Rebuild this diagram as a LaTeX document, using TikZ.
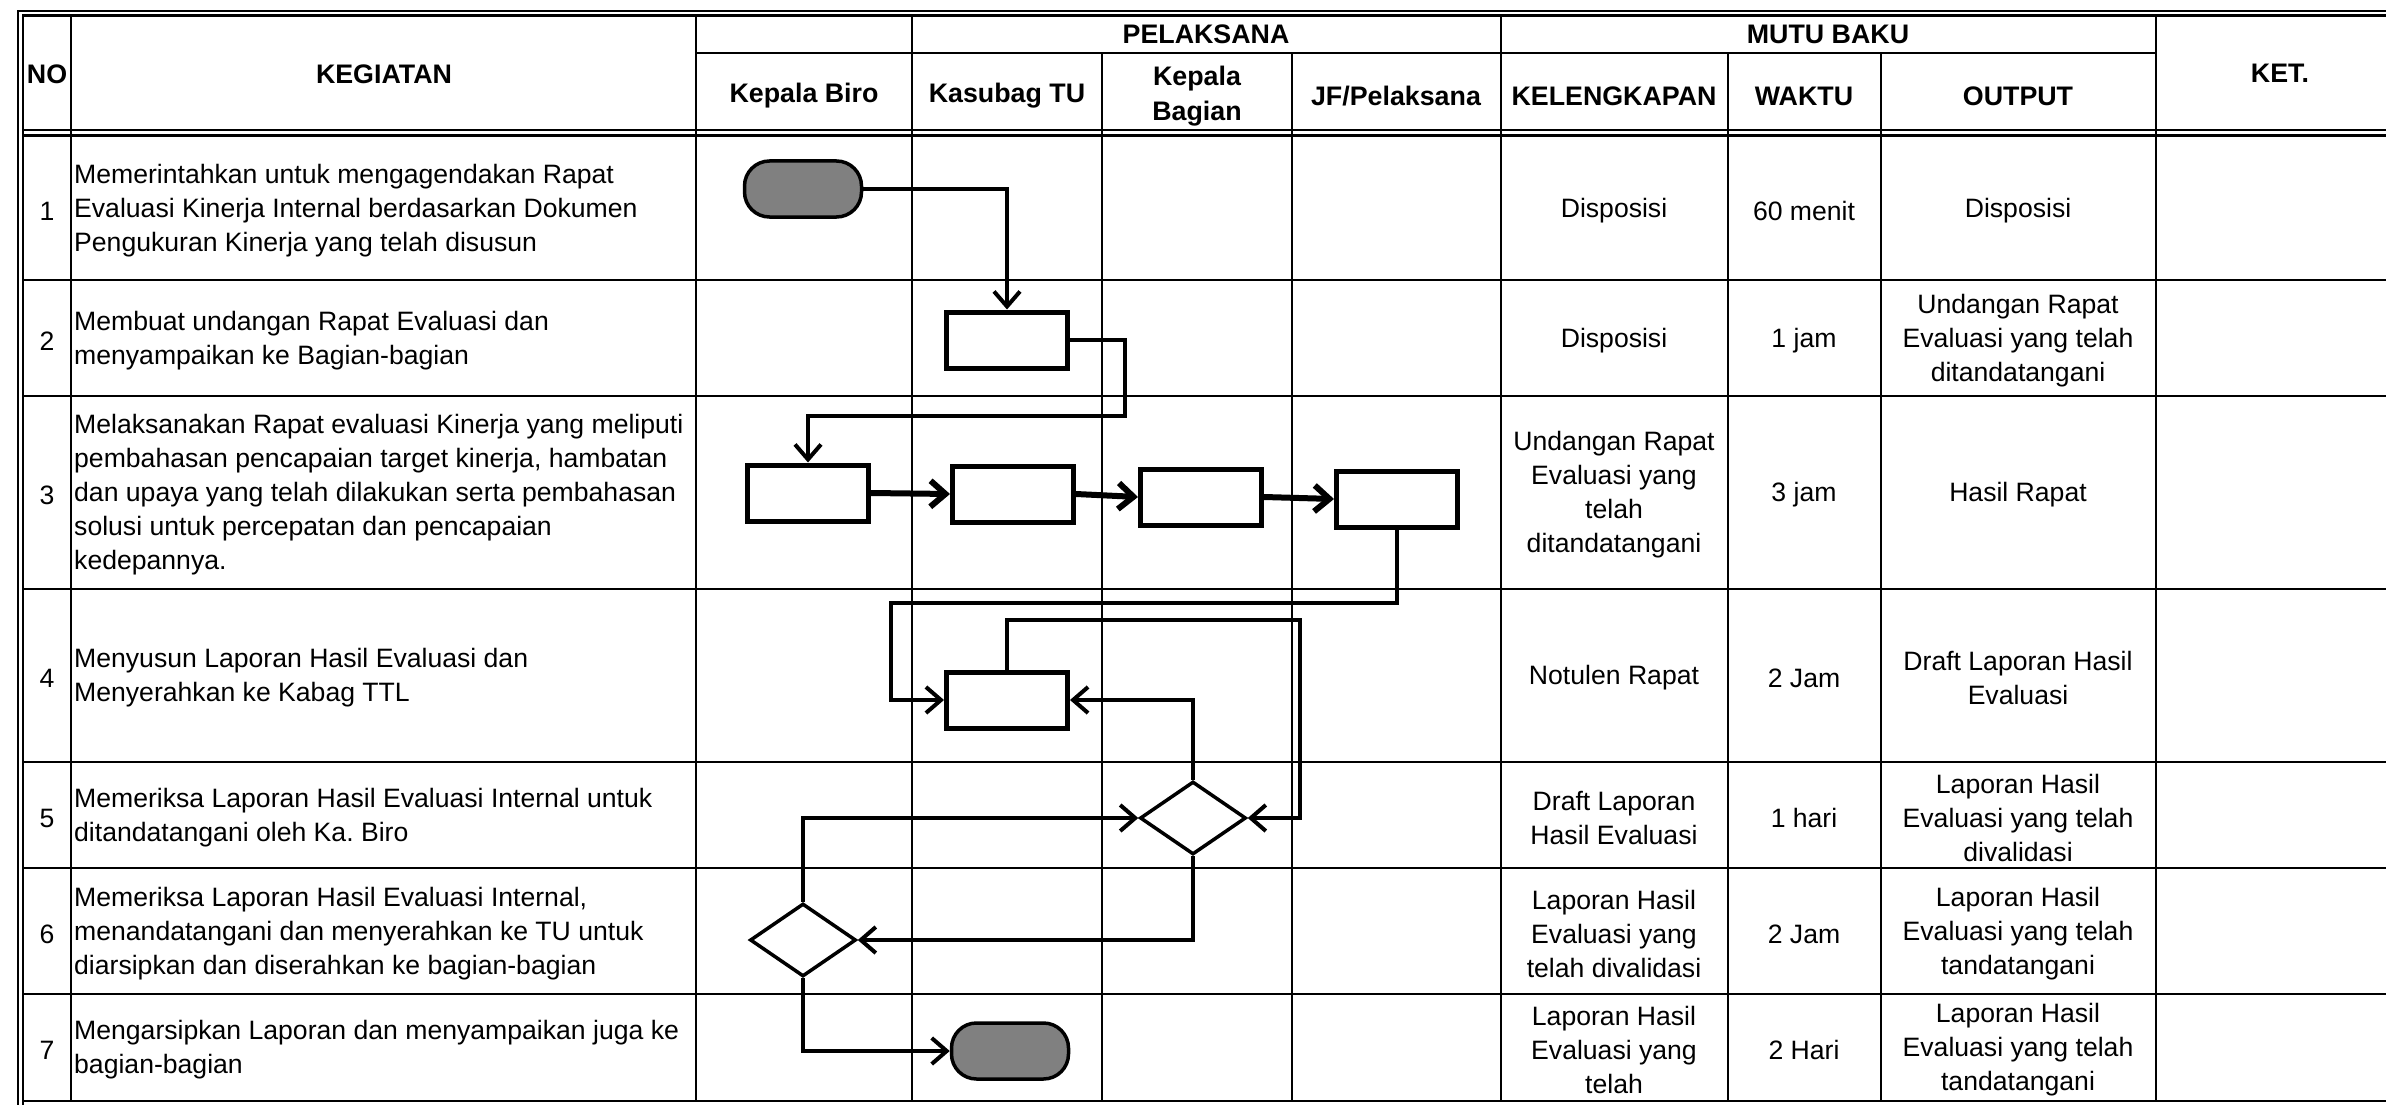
\documentclass[tikz,border=0pt]{standalone}
\usepackage{fontspec}
\setmainfont{Liberation Sans}
\definecolor{termgray}{RGB}{128,128,128}
\usetikzlibrary{arrows.meta, shapes.geometric}

\begin{document}
\begin{tikzpicture}[
  x=1pt, y=-1pt,
  font=\fontsize{26.6}{34}\selectfont,
  grid/.style={line width=2.2pt},
  rule/.style={line width=2.8pt},
  arrow/.style={-{Straight Barb[length=15pt,width=26pt]}, line width=4pt},
  flow/.style={-{Straight Barb[length=15pt,width=26pt]}, line width=6pt},
  proc/.style={draw, line width=5pt, fill=white, minimum width=121pt,
             minimum height=56pt, inner sep=0pt},
  term/.style={draw, line width=3.5pt, fill=termgray, rounded corners=25pt,
             minimum width=117pt, minimum height=56pt, inner sep=0pt},
  dec/.style={draw, diamond, line width=3.5pt, fill=white, minimum width=106pt,
             minimum height=73pt, inner sep=0pt},
  head/.style={font=\fontsize{26.8}{35}\selectfont\bfseries, align=center, inner sep=0pt},
  task/.style={anchor=west, align=left, inner sep=0pt},
  cell/.style={align=center, inner sep=0pt},
]
\useasboundingbox (0,0) rectangle (2386,1105);
\clip (0,0) rectangle (2386,1105);

\draw[rule] (18,1120) |- (2420,11);
\draw[grid] (22.7,1120) |- (2420,15.5);
\draw[rule] (22.7,130) -- (2420,130);
\draw[rule] (22.7,135.5) -- (2420,135.5);
\draw[rule] (696,53) -- (2156,53);
\draw[rule] (22.7,280) -- (2420,280);
\draw[rule] (22.7,396) -- (2420,396);
\draw[rule] (22.7,589) -- (2420,589);
\draw[rule] (22.7,762) -- (2420,762);
\draw[rule] (22.7,868) -- (2420,868);
\draw[rule] (22.7,994) -- (2420,994);
\draw[rule] (22.7,1101) -- (2420,1101);
\draw[grid] (71,15.5) -- (71,1101);
\draw[grid] (696,15.5) -- (696,1101);
\draw[grid] (912,15.5) -- (912,1101);
\draw[grid] (1102,53) -- (1102,1101);
\draw[grid] (1292,53) -- (1292,1101);
\draw[grid] (1501,15.5) -- (1501,1101);
\draw[grid] (1728,53) -- (1728,1101);
\draw[grid] (1881,53) -- (1881,1101);
\draw[grid] (2156,15.5) -- (2156,1101);

\node[head] (no) at (47,74) {NO};
\node[head] (kegiatan) at (384,74) {KEGIATAN};
\node[head] (pelaksana) at (1206,34) {PELAKSANA};
\node[head] (mutu) at (1828,34) {MUTU BAKU};
\node[head] (ket) at (2280,73) {KET.};
\node[head] (kbiro) at (804,96) {Kepala Biro};
\node[head] (ksubag) at (1007,96) {Kasubag TU};
\node[head] (kbagian) at (1197,96) {Kepala\\Bagian};
\node[head] (jf) at (1396,96) {JF/Pelaksana};
\node[head] (lengkap) at (1614,96) {KELENGKAPAN};
\node[head] (waktu) at (1804,96) {WAKTU};
\node[head] (output) at (2018,96) {OUTPUT};

\node (no1) at (47,211) {1};
\node (no2) at (47,341) {2};
\node (no3) at (47,495) {3};
\node (no4) at (47,678) {4};
\node (no5) at (47,818) {5};
\node (no6) at (47,934) {6};
\node (no7) at (47,1050) {7};

\node[task] (keg1) at (74,211) {Memerintahkan untuk mengagendakan Rapat\\Evaluasi Kinerja Internal berdasarkan Dokumen\\Pengukuran Kinerja yang telah disusun};
\node[task] (keg2) at (74,341) {Membuat undangan Rapat Evaluasi dan\\menyampaikan ke Bagian-bagian};
\node[task] (keg3) at (74,495) {Melaksanakan Rapat evaluasi Kinerja yang meliputi\\pembahasan pencapaian target kinerja, hambatan\\dan upaya yang telah dilakukan serta pembahasan\\solusi untuk percepatan dan pencapaian\\kedepannya.};
\node[task] (keg4) at (74,678) {Menyusun Laporan Hasil Evaluasi dan\\Menyerahkan ke Kabag TTL};
\node[task] (keg5) at (74,818) {Memeriksa Laporan Hasil Evaluasi Internal untuk\\ditandatangani oleh Ka.\ Biro};
\node[task] (keg6) at (74,934) {Memeriksa Laporan Hasil Evaluasi Internal,\\menandatangani dan menyerahkan ke TU untuk\\diarsipkan dan diserahkan ke bagian-bagian};
\node[task] (keg7) at (74,1050) {Mengarsipkan Laporan dan menyampaikan juga ke\\bagian-bagian};

\node[cell] (kel1) at (1614,211) {Disposisi};
\node[cell] (wkt1) at (1804,211) {60 menit};
\node[cell] (out1) at (2018,211) {Disposisi};
\node[cell] (kel2) at (1614,341) {Disposisi};
\node[cell] (wkt2) at (1804,341) {1 jam};
\node[cell] (out2) at (2018,341) {Undangan Rapat\\Evaluasi yang telah\\ditandatangani};
\node[cell] (kel3) at (1614,495) {Undangan Rapat\\Evaluasi yang\\telah\\ditandatangani};
\node[cell] (wkt3) at (1804,495) {3 jam};
\node[cell] (out3) at (2018,495) {Hasil Rapat};
\node[cell] (kel4) at (1614,678) {Notulen Rapat};
\node[cell] (wkt4) at (1804,678) {2 Jam};
\node[cell] (out4) at (2018,678) {Draft Laporan Hasil\\Evaluasi};
\node[cell] (kel5) at (1614,818) {Draft Laporan\\Hasil Evaluasi};
\node[cell] (wkt5) at (1804,818) {1 hari};
\node[cell] (out5) at (2018,818) {Laporan Hasil\\Evaluasi yang telah\\divalidasi};
\node[cell] (kel6) at (1614,934) {Laporan Hasil\\Evaluasi yang\\telah divalidasi};
\node[cell] (wkt6) at (1804,934) {2 Jam};
\node[cell] (out6) at (2018,934) {Laporan Hasil\\Evaluasi yang telah\\tandatangani};
\node[cell] (kel7) at (1614,1050) {Laporan Hasil\\Evaluasi yang\\telah};
\node[cell] (wkt7) at (1804,1050) {2 Hari};
\node[cell] (out7) at (2018,1050) {Laporan Hasil\\Evaluasi yang telah\\tandatangani};

\node[term] (start) at (803,189) {};
\node[proc] (undang) at (1007,340) {};
\node[proc] (rapat1) at (808,493) {};
\node[proc] (rapat2) at (1013,494) {};
\node[proc] (rapat3) at (1201,497) {};
\node[proc] (rapat4) at (1397,499) {};
\node[proc] (lapor) at (1007,700) {};
\node[dec] (cek1) at (1193,818) {};
\node[dec] (cek2) at (803,940) {};
\node[term] (arsip) at (1010,1051) {};

\draw[arrow] (start.east) -| (undang.north);
\draw[arrow] (undang.east) -| ++(55,76) -| (rapat1.north);
\draw[flow] (rapat1.east) -- (rapat2.west);
\draw[flow] (rapat2.east) -- (rapat3.west);
\draw[flow] (rapat3.east) -- (rapat4.west);
\draw[arrow] (rapat4.south) |- ++(-506,73) |- (lapor.west);
\draw[arrow] (lapor.north) |- ++(293,-50) |- (cek1.east);
\draw[arrow] (cek1.north) |- (lapor.east);
\draw[arrow] (cek1.south) |- (cek2.east);
\draw[arrow] (cek2.north) |- (cek1.west);
\draw[arrow] (cek2.south) |- (arsip.west);
\end{tikzpicture}
\end{document}
